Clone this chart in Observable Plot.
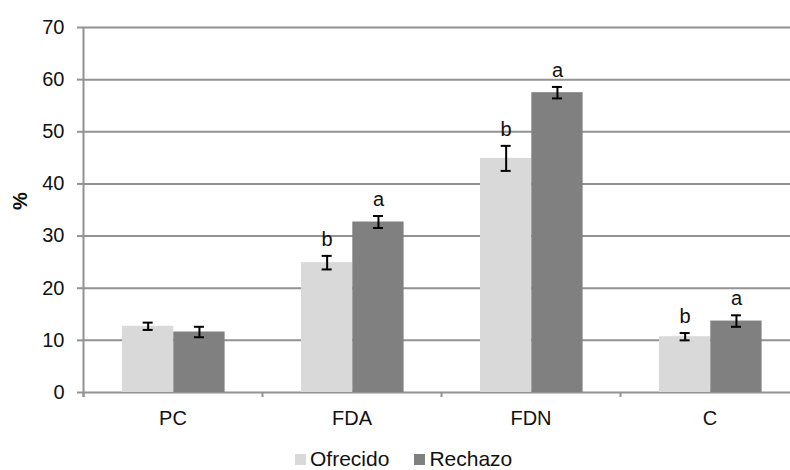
<!DOCTYPE html>
<html>
<head>
<meta charset="utf-8">
<script src="https://cdn.jsdelivr.net/npm/d3@7"></script>
<script src="https://cdn.jsdelivr.net/npm/@observablehq/plot@0.6"></script>
<style>
  html, body { margin: 0; padding: 0; background: #fff; overflow: hidden; }
  #chart { width: 790px; }
  .legend { display: flex; align-items: center; height: 22px; padding-left: 295px;
            font-family: "Liberation Sans", Arial, sans-serif; font-size: 21px; line-height: 22px; color: #111; }
  .legend .sw { width: 11px; height: 11px; display: inline-block; margin-right: 4px; }
  .legend .item { display: flex; align-items: center; margin-right: 25px; }
</style>
</head>
<body>
<div id="chart"></div>
<script>
// ---- data ----
const categories = ["PC", "FDA", "FDN", "C"];
const series = ["Ofrecido", "Rechazo"];
const ofrecido = [12.7, 24.9, 44.9, 10.7];
const ofrecidoErr = [0.7, 1.3, 2.4, 0.7];
const rechazo = [11.6, 32.7, 57.5, 13.7];
const rechazoErr = [1.0, 1.15, 1.1, 1.1];
const ofrecidoLetters = ["", "b", "b", "b"];
const rechazoLetters = ["", "a", "a", "a"];
const yTicks = [0, 10, 20, 30, 40, 50, 60, 70];

// ---- styles ----
const colors = {Ofrecido: "#d9d9d9", Rechazo: "#808080"};
const W = 790, H = 448, mL = 83, mR = -9, mT = 27, mB = 56;
const step = (W - mL - mR) / categories.length;
const barW = 51.3;
const barLeft = {Ofrecido: 39, Rechazo: 39 + barW};
const capW = 10;
const grid = "#929292";
const font = "Liberation Sans, Arial, sans-serif";

const values = {Ofrecido: ofrecido, Rechazo: rechazo};
const errs = {Ofrecido: ofrecidoErr, Rechazo: rechazoErr};
const letters = {Ofrecido: ofrecidoLetters, Rechazo: rechazoLetters};

const rows = series.flatMap(s => categories.map((c, i) => ({
  cat: c, series: s, value: values[s][i], err: errs[s][i], letter: letters[s][i]
})));

const marks = [
  Plot.ruleY(yTicks, {stroke: grid, strokeWidth: 2}),
  Plot.ruleX([categories[0]], {x: d => d, dx: -step / 2, insetBottom: -5, stroke: grid, strokeWidth: 2}),
  Plot.ruleX(categories, {x: d => d, dx: -step / 2, insetTop: H - mT - mB, insetBottom: -5, stroke: grid, strokeWidth: 2})
];

for (const s of series) {
  const data = rows.filter(d => d.series === s);
  const left = barLeft[s];
  const center = left + barW / 2;
  marks.push(
    Plot.barY(data, {x: "cat", y: "value", fill: colors[s], insetLeft: left, insetRight: step - left - barW}),
    Plot.ruleX(data, {x: "cat", y1: d => d.value - d.err, y2: d => d.value + d.err, dx: center - step / 2, stroke: "#000", strokeWidth: 2}),
    Plot.tickY(data, {x: "cat", y: d => d.value + d.err, insetLeft: center - capW / 2, insetRight: step - center - capW / 2, stroke: "#000", strokeWidth: 2}),
    Plot.tickY(data, {x: "cat", y: d => d.value - d.err, insetLeft: center - capW / 2, insetRight: step - center - capW / 2, stroke: "#000", strokeWidth: 2}),
    Plot.text(data, {x: "cat", y: d => d.value + d.err, text: "letter", dx: center - step / 2, dy: -10, lineAnchor: "bottom", fontSize: 20, fill: "#111"})
  );
}

marks.push(
  Plot.axisY({ticks: yTicks, tickSize: 6, tickPadding: 13, stroke: grid, strokeWidth: 2, fontSize: 20, label: null, color: "#111"}),
  Plot.axisX({tickSize: 0, tickPadding: 18, fontSize: 20, label: null, color: "#111"}),
  Plot.text(["%"], {frameAnchor: "left", dx: -63, rotate: -90, fontSize: 20, fontWeight: "bold", fill: "#111"})
);

const chart = Plot.plot({
  width: W, height: H,
  marginLeft: mL, marginRight: mR, marginTop: mT, marginBottom: mB,
  style: {fontFamily: font, background: "#fff", overflow: "hidden"},
  x: {type: "band", domain: categories, padding: 0, axis: null},
  y: {domain: [0, 70], axis: null},
  marks
});
document.getElementById("chart").appendChild(chart);

const legend = document.createElement("div");
legend.className = "legend";
for (const s of series) {
  const item = document.createElement("span");
  item.className = "item";
  const sw = document.createElement("span");
  sw.className = "sw";
  sw.style.background = colors[s];
  item.appendChild(sw);
  item.appendChild(document.createTextNode(s));
  legend.appendChild(item);
}
document.body.appendChild(legend);
</script>
</body>
</html>
